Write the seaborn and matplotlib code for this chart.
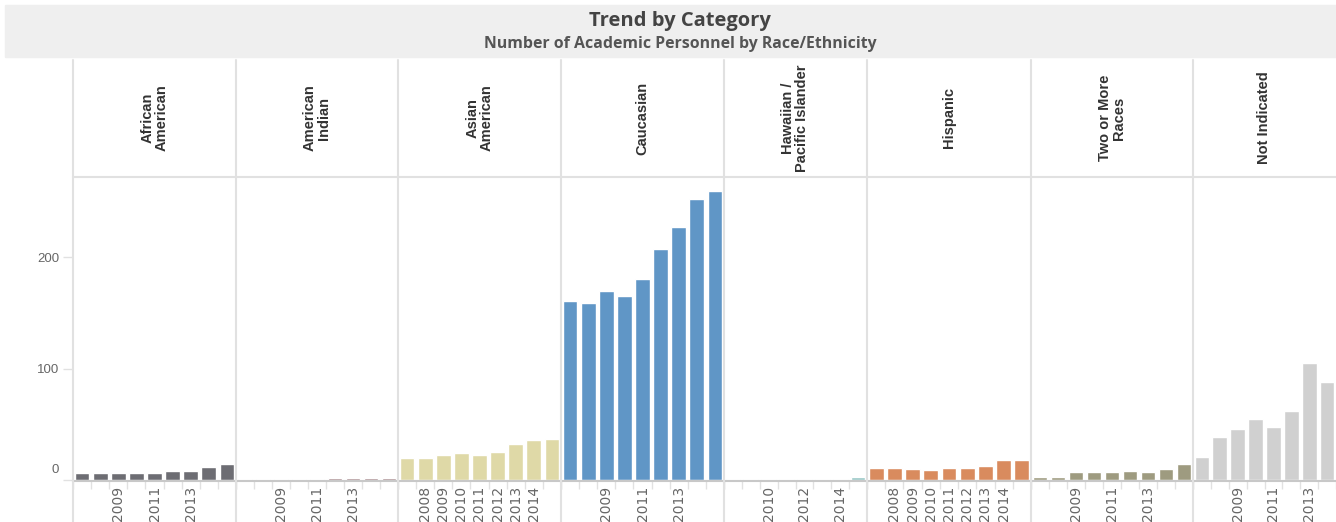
import matplotlib
matplotlib.use('Agg')
import matplotlib.pyplot as plt
import matplotlib.transforms as mtransforms
from matplotlib.patches import Rectangle
from matplotlib.lines import Line2D
import numpy as np
import pandas as pd
import seaborn as sns

sns.set_theme(style='white')
plt.rcParams['font.family'] = ['Liberation Sans', 'DejaVu Sans']

# data
categories = ['African\nAmerican', 'American\nIndian', 'Asian\nAmerican', 'Caucasian',
              'Hawaiian /\nPacific Islander', 'Hispanic', 'Two or More\nRaces', 'Not Indicated']
years_all = [2007, 2008, 2009, 2010, 2011, 2012, 2013, 2014, 2015]
years_hawaiian = [2008, 2009, 2010, 2011, 2012, 2013, 2014, 2015]
years_not_ind = [2007, 2008, 2009, 2010, 2011, 2012, 2013, 2014]

african_american = [6, 6, 6, 6, 6, 8, 8, 12, 14]
american_indian = [1, 1, 1, 1, 1, 2, 2, 2, 2]
asian_american = [20, 20, 22, 24, 22, 25, 32, 36, 37]
caucasian = [161, 159, 170, 165, 180, 207, 227, 252, 259]
hawaiian = [1, 1, 1, 1, 1, 1, 1, 3]
hispanic = [11, 11, 10, 9, 11, 11, 13, 18, 18]
two_or_more = [3, 3, 7, 7, 7, 8, 7, 10, 14]
not_indicated = [21, 39, 46, 55, 48, 62, 105, 88]

tick_years = [
    [2009, 2011, 2013],
    [2009, 2011, 2013],
    [2008, 2009, 2010, 2011, 2012, 2013, 2014],
    [2009, 2011, 2013],
    [2010, 2012, 2014],
    [2008, 2009, 2010, 2011, 2012, 2013, 2014],
    [2009, 2011, 2013],
    [2009, 2011, 2013],
]

colors = ['#6d6d73', '#9e7d82', '#dfd9a7', '#6096c6',
          '#98c8c6', '#d98b5e', '#9e9b80', '#d0d0d0']

series = [
    (years_all, african_american), (years_all, american_indian),
    (years_all, asian_american), (years_all, caucasian),
    (years_hawaiian, hawaiian), (years_all, hispanic),
    (years_all, two_or_more), (years_not_ind, not_indicated),
]

rows = []
for cat, (yrs, vals) in zip(categories, series):
    for y, v in zip(yrs, vals):
        rows.append({'category': cat, 'year': str(y), 'count': v})
df = pd.DataFrame(rows)

# layout in pixels
W, H = 1336, 522
edges = [73, 236, 398, 561, 724, 867, 1031, 1193, 1336]
plot_top, base_y, header_top = 177, 481, 60
line_col = '#e1e1e1'
text_col = '#666666'

fig = plt.figure(figsize=(W / 100, H / 100), dpi=100)

# title band
fig.add_artist(Rectangle((5 / W, 1 - 57 / H), (W - 5) / W, 52 / H,
                         transform=fig.transFigure, color='#efefef', zorder=0))
fig.text(680 / W, 1 - 21 / H, 'Trend by Category', ha='center', va='center',
         fontsize=14.5, fontweight='bold', color='#444444', family=['Open Sans', 'DejaVu Sans'])
fig.text(680 / W, 1 - 44 / H, 'Number of Academic Personnel by Race/Ethnicity',
         ha='center', va='center', fontsize=11.4, fontweight='bold', color='#555555',
         family=['Open Sans', 'DejaVu Sans'])

for i, cat in enumerate(categories):
    sub = df[df['category'] == cat]
    yrs = list(sub['year'])
    n = len(yrs)
    left, right = edges[i], edges[i + 1]
    ax = fig.add_axes([left / W, 1 - base_y / H, (right - left) / W, (base_y - plot_top) / H])
    sns.barplot(data=sub, x='year', y='count', order=yrs, color=colors[i],
                saturation=1, width=0.82, ax=ax)
    ax.set_xlim(-0.5, n - 0.5)
    ax.set_ylim(-0.9, 272)
    ax.set_xlabel('')
    ax.set_ylabel('')
    for name, s in ax.spines.items():
        s.set_visible(name == 'bottom')
    ax.spines['bottom'].set_color('#c8c8c8')
    ax.spines['bottom'].set_linewidth(1.5)

    pos = [yrs.index(str(t)) for t in tick_years[i]]
    ax.set_xticks(pos, [str(t) for t in tick_years[i]])
    ax.set_xticks(np.arange(n + 1) - 0.5, minor=True)
    ax.tick_params(axis='x', which='major', length=0, pad=3.5, labelsize=10,
                   labelcolor=text_col, labelrotation=90)
    ax.tick_params(axis='x', which='minor', bottom=True, length=6, width=1, color=line_col)
    for lbl in ax.get_xticklabels():
        lbl.set_fontfamily(['DejaVu Sans'])

    if i == 0:
        ax.set_yticks([0, 100, 200], ['0', '100', '200'])
        ax.tick_params(axis='y', left=True, length=7, width=1, color=line_col,
                       labelsize=9.5, labelcolor=text_col, pad=3)
        zero_lbl = ax.get_yticklabels()[0]
        zero_lbl.set_transform(zero_lbl.get_transform() +
                               mtransforms.ScaledTranslation(0, 11 / 100, fig.dpi_scale_trans))
    else:
        ax.set_yticks([])

    fig.text((left + right) / 2 / W, 1 - 118 / H, cat, rotation=90, ha='center', va='center',
             multialignment='center', fontsize=10.5, fontweight='bold', color='#333333',
             linespacing=1.0)

# panel separators and header rule
for x in edges[:-1]:
    fig.add_artist(Line2D([x / W, x / W], [0, 1 - header_top / H], transform=fig.transFigure,
                          color=line_col, lw=1.5))
fig.add_artist(Line2D([edges[0] / W, 1], [1 - plot_top / H, 1 - plot_top / H],
                      transform=fig.transFigure, color=line_col, lw=1.5))

fig.savefig('out.png', dpi=100, facecolor='white')
